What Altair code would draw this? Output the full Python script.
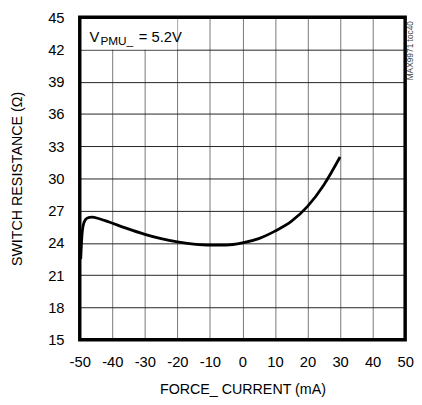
import altair as alt
import pandas as pd

# data
force_current = [-49.7, -49.3, -48.7, -47.8, -46.3, -44.0, -41.0, -36.0, -30.0, -25.0,
                 -20.0, -15.0, -10.0, -5.0, 0.0, 5.0, 10.0, 15.0, 20.0, 25.0, 30.0]
resistance = [22.5, 24.8, 25.9, 26.3, 26.4, 26.25, 25.95, 25.4, 24.8, 24.4,
              24.1, 23.9, 23.8, 23.8, 24.0, 24.4, 25.1, 26.0, 27.4, 29.4, 32.0]
x_ticks = [-50, -40, -30, -20, -10, 0, 10, 20, 30, 40, 50]
y_ticks = [15, 18, 21, 24, 27, 30, 33, 36, 39, 42, 45]

FONT = "Liberation Sans"

df = pd.DataFrame({"x": force_current, "y": resistance})

xscale = alt.Scale(domain=[x_ticks[0], x_ticks[-1]], nice=False, zero=False)
yscale = alt.Scale(domain=[y_ticks[0], y_ticks[-1]], nice=False, zero=False)

line = alt.Chart(df).mark_line(color="black", strokeWidth=2.8, interpolate="monotone").encode(
    x=alt.X("x:Q", scale=xscale,
            axis=alt.Axis(values=x_ticks, tickCount=len(x_ticks), title="FORCE_ CURRENT (mA)",
                          grid=True, gridColor="#777777", gridWidth=1, gridOpacity=1,
                          domain=False, ticks=False, labelPadding=15,
                          labelOverlap=False, labelBound=False, labelFlush=False,
                          labelExpr="toString(datum.value)",
                          labelFontSize=15, labelFont=FONT, labelColor="black",
                          titleFont=FONT, titleFontSize=14.5, titleFontWeight="normal",
                          titleColor="black", titlePadding=14)),
    y=alt.Y("y:Q", scale=yscale,
            axis=alt.Axis(values=y_ticks, tickCount=len(y_ticks), title="SWITCH RESISTANCE (Ω)",
                          grid=True, gridColor="#222222", gridWidth=1, gridOpacity=1,
                          domain=False, ticks=False, labelPadding=16,
                          labelOverlap=False, labelBound=False, labelFlush=False,
                          labelExpr="toString(datum.value)",
                          labelFontSize=15, labelFont=FONT, labelColor="black",
                          titleFont=FONT, titleFontSize=14.5, titleFontWeight="normal",
                          titleColor="black", titlePadding=24)),
)

# white box behind the annotation
box_df = pd.DataFrame({"x": [-50], "x2": [-20], "y": [42], "y2": [45]})
box = alt.Chart(box_df).mark_rect(color="white").encode(
    x=alt.X("x:Q", scale=xscale), x2="x2:Q",
    y=alt.Y("y:Q", scale=yscale), y2="y2:Q")

# frame around the plot area
frame_df = pd.DataFrame({"x": [x_ticks[0]], "x2": [x_ticks[-1]],
                         "y": [y_ticks[0]], "y2": [y_ticks[-1]]})
frame = alt.Chart(frame_df).mark_rect(fill=None, fillOpacity=0, stroke="black",
                                      strokeWidth=3.5).encode(
    x=alt.X("x:Q", scale=xscale), x2="x2:Q",
    y=alt.Y("y:Q", scale=yscale), y2="y2:Q")

ann_v = alt.Chart(pd.DataFrame({"t": ["V"]})).mark_text(
    font=FONT, fontSize=15, align="left", baseline="alphabetic", color="black"
).encode(text="t:N", x=alt.value(10), y=alt.value(25))
ann_sub = alt.Chart(pd.DataFrame({"t": ["PMU_"]})).mark_text(
    font=FONT, fontSize=12, align="left", baseline="alphabetic", color="black"
).encode(text="t:N", x=alt.value(21), y=alt.value(28))
ann_rest = alt.Chart(pd.DataFrame({"t": ["= 5.2V"]})).mark_text(
    font=FONT, fontSize=15, align="left", baseline="alphabetic", color="black"
).encode(text="t:N", x=alt.value(60), y=alt.value(25))
mark_id = alt.Chart(pd.DataFrame({"t": ["MAX9971 toc40"]})).mark_text(
    font=FONT, fontSize=8.5, align="center", baseline="middle", color="#444", angle=270
).encode(text="t:N", x=alt.value(336), y=alt.value(34))

chart = alt.layer(box, line, frame, ann_v, ann_sub, ann_rest, mark_id).properties(
    width=331, height=328,
    background="white",
    padding={"left": 73, "top": 6, "right": 9, "bottom": 61},
    autosize=alt.AutoSizeParams(type="none"),
).configure_view(strokeWidth=0)

chart.save("out.html", embed_options={"renderer": "svg", "actions": False})
